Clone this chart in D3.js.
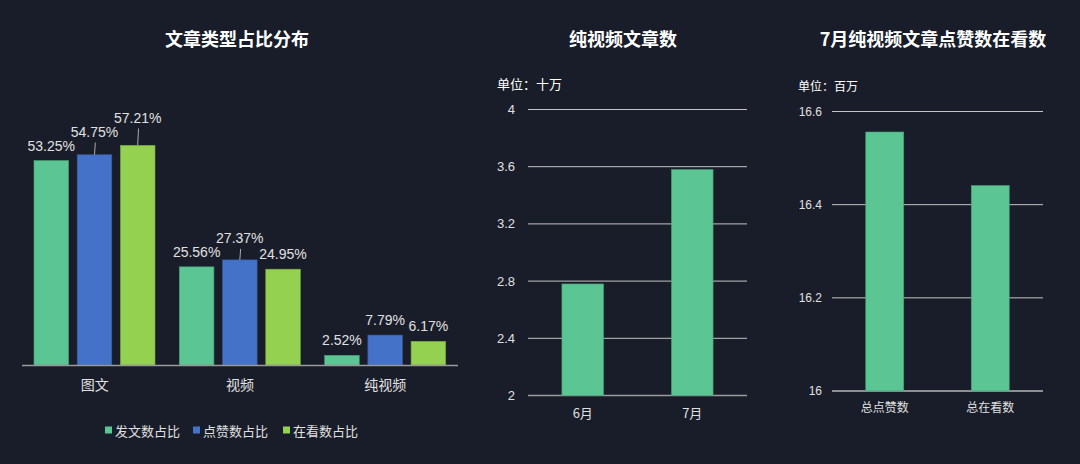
<!DOCTYPE html>
<html><head><meta charset="utf-8">
<script src="https://cdn.jsdelivr.net/npm/d3@7"></script>
<style>
html,body{margin:0;padding:0;background:#191d29;}
svg{display:block;font-family:"Liberation Sans",Arial,"Noto Sans CJK SC",sans-serif;}
</style></head><body>
<svg id="c" width="1080" height="464"></svg>
<script>
// ---- data ----
const typeCategories = ["图文", "视频", "纯视频"];
const typeSeries = ["发文数占比", "点赞数占比", "在看数占比"];
const postShare = [53.25, 25.56, 2.52];
const likeShare = [54.75, 27.37, 7.79];
const viewShare = [57.21, 24.95, 6.17];

const monthCategories = ["6月", "7月"];
const monthArticles = [2.78, 3.58];
const monthTicks = [2, 2.4, 2.8, 3.2, 3.6, 4];

const julyCategories = ["总点赞数", "总在看数"];
const julyValues = [16.556, 16.441];
const julyTicks = [16, 16.2, 16.4, 16.6];

const titles = ["文章类型占比分布", "纯视频文章数", "7月纯视频文章点赞数在看数"];
const units = ["单位：十万", "单位：百万"];

// ---- style ----
const colors = ["#5bc593", "#4472c8", "#95d150"];
const textColor = "#e0e0e0";
const svg = d3.select("#c");
const cjk = '"Noto Sans CJK SC","Liberation Sans",sans-serif';

// titles
[[237, titles[0]], [623, titles[1]], [933, titles[2]]].forEach(([x, t]) => {
  svg.append("text").attr("x", x).attr("y", 38).attr("text-anchor", "middle")
    .attr("dominant-baseline", "central").attr("fill", "#ffffff")
    .attr("font-size", 18).attr("font-weight", "bold").style("font-family", cjk).text(t);
});

// ---- chart 1 ----
(function () {
  const seriesData = [postShare, likeShare, viewShare];
  const x0 = d3.scaleBand().domain(typeCategories).range([22, 458]).paddingInner(0).paddingOuter(0);
  const x1 = d3.scaleBand().domain(typeSeries).range([12, 133]).paddingInner(0.2);
  const y = d3.scaleLinear().domain([0, 60]).range([365, 134.6]);
  const g = svg.append("g");

  typeCategories.forEach((cat, ci) => {
    const gx = x0(cat);
    const placed = [];
    typeSeries.forEach((s, si) => {
      const v = seriesData[si][ci];
      const bx = gx + x1(s), bw = x1.bandwidth();
      const top = y(v);
      g.append("rect").attr("x", bx).attr("y", top).attr("width", bw).attr("height", y(0) - top)
        .attr("fill", colors[si]).attr("stroke", d3.color(colors[si]).darker(0.6)).attr("stroke-width", 0.6);
      const label = v.toFixed(2) + "%";
      const cx = bx + bw / 2;
      const w = label.length * 7.2 + 4;
      let ly = top - 15;
      const prev = placed[placed.length - 1];
      if (prev && Math.abs(prev.cx - cx) < (prev.w + w) / 2 && Math.abs(prev.ly - ly) < 14) {
        ly = prev.ly - 14;
      }
      const shifted = ly < top - 16;
      placed.push({cx, ly, w});
      if (shifted) {
        g.append("line").attr("x1", cx).attr("x2", cx + 0.8).attr("y1", top).attr("y2", ly + 11)
          .attr("stroke", "#aaaaaa").attr("stroke-width", 1);
      }
      g.append("text").attr("x", cx).attr("y", ly).attr("text-anchor", "middle")
        .attr("dominant-baseline", "central").attr("fill", textColor).attr("font-size", 14).text(label);
    });
    g.append("text").attr("x", gx + x0.bandwidth() / 2).attr("y", 384).attr("text-anchor", "middle")
      .attr("dominant-baseline", "central").attr("fill", textColor).attr("font-size", 14)
      .style("font-family", cjk).text(cat);
  });
  g.append("line").attr("x1", 22).attr("x2", 458).attr("y1", 365.5).attr("y2", 365.5)
    .attr("stroke", "#9a9a9a").attr("stroke-width", 1.5);

  // legend
  const legX = [105, 193, 283];
  typeSeries.forEach((s, i) => {
    svg.append("rect").attr("x", legX[i]).attr("y", 426.5).attr("width", 7).attr("height", 7).attr("fill", colors[i]);
    svg.append("text").attr("x", legX[i] + 10).attr("y", 430).attr("dominant-baseline", "central")
      .attr("fill", textColor).attr("font-size", 13).style("font-family", cjk).text(s);
  });
})();

// ---- generic single bar chart ----
function barChart(opts) {
  const g = svg.append("g");
  const x = d3.scaleBand().domain(opts.cats).range([opts.x0, opts.x1]).paddingInner(0).paddingOuter(0);
  const y = d3.scaleLinear().domain(opts.domain).range([opts.yb, opts.yt]);
  opts.ticks.forEach(t => {
    g.append("line").attr("x1", opts.x0).attr("x2", opts.x1).attr("y1", y(t)).attr("y2", y(t))
      .attr("stroke", "#c4c4c4").attr("stroke-width", 1);
    g.append("text").attr("x", opts.tickX).attr("y", y(t)).attr("text-anchor", "end")
      .attr("dominant-baseline", "central").attr("fill", textColor).attr("font-size", opts.fs).text(t);
  });
  g.append("line").attr("x1", opts.x0).attr("x2", opts.x1).attr("y1", y(opts.domain[0])).attr("y2", y(opts.domain[0]))
    .attr("stroke", "#9a9a9a").attr("stroke-width", 1.5);
  opts.cats.forEach((c, i) => {
    const bw = x.bandwidth() * opts.barRatio;
    const bx = x(c) + (x.bandwidth() - bw) / 2;
    const top = y(opts.values[i]);
    g.append("rect").attr("x", bx).attr("y", top).attr("width", bw).attr("height", y(opts.domain[0]) - top)
      .attr("fill", colors[0]).attr("stroke", d3.color(colors[0]).darker(0.6)).attr("stroke-width", 0.6);
    g.append("text").attr("x", x(c) + x.bandwidth() / 2).attr("y", opts.labelY).attr("text-anchor", "middle")
      .attr("dominant-baseline", "central").attr("fill", textColor).attr("font-size", opts.fs)
      .style("font-family", cjk).text(c);
  });
  svg.append("text").attr("x", opts.unitX).attr("y", opts.unitY).attr("dominant-baseline", "central")
    .attr("fill", "#ffffff").attr("font-size", opts.fs).style("font-family", cjk).text(opts.unit);
}

barChart({cats: monthCategories, values: monthArticles, ticks: monthTicks, domain: [2, 4],
  x0: 528, x1: 747, yb: 395.5, yt: 109.5, tickX: 515, labelY: 412, fs: 13, barRatio: 0.38,
  unit: units[0], unitX: 497, unitY: 83});

barChart({cats: julyCategories, values: julyValues, ticks: julyTicks, domain: [16, 16.6],
  x0: 832, x1: 1043, yb: 391, yt: 111.5, tickX: 822, labelY: 406, fs: 12, barRatio: 0.36,
  unit: units[1], unitX: 798, unitY: 85});
</script>
</body></html>
